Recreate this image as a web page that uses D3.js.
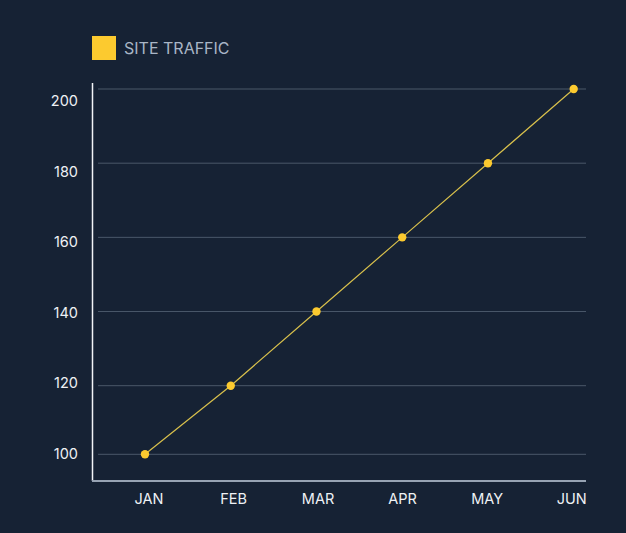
<!DOCTYPE html>
<html>
<head>
<meta charset="utf-8">
<script src="https://cdn.jsdelivr.net/npm/d3@7"></script>
<style>
  html, body { margin: 0; padding: 0; background: #162234; }
  #graf { width: 626px; height: 533px; }
  text { font-family: Inter, 'Noto Sans', sans-serif; }
</style>
</head>
<body>
<div id="graf"></div>
<script>
// datos
meses = ['JAN', 'FEB', 'MAR', 'APR', 'MAY', 'JUN']
trafico = [100, 120, 140, 160, 180, 200]
yTicks = [100, 120, 140, 160, 180, 200]
serie = 'SITE TRAFFIC'

// configuración
ancho_total = 626
alto_total = 533
margins = { top: 83, left: 92, right: 40, bottom: 52 }
ancho = ancho_total - margins.left - margins.right
alto = alto_total - margins.top - margins.bottom

svg = d3.select('#graf').append('svg')
        .attr('width', ancho_total)
        .attr('height', alto_total)

g = svg.append('g')
       .attr('transform', `translate(${ margins.left }, ${ margins.top })`)

// escalas (la grilla del original no es del todo uniforme abajo)
y = d3.scaleLinear()
      .domain([100, 120, 200])
      .range([371.3, 302.7, 6])
yLabel = d3.scalePoint()
      .domain(yTicks)
      .range([371, 18])
x = d3.scalePoint()
      .domain(meses)
      .range([53, 481.7])
xLabel = d3.scalePoint()
      .domain(meses)
      .range([57, 479.7])

// grilla
g.selectAll('.grid')
  .data(yTicks)
  .enter().append('line')
    .attr('class', 'grid')
    .attr('x1', 6).attr('x2', ancho)
    .attr('y1', d => y(d)).attr('y2', d => y(d))
    .attr('stroke', '#4a5869')
    .attr('stroke-width', 1)

// ejes
g.append('line')
  .attr('x1', 0.5).attr('x2', 0.5)
  .attr('y1', 0).attr('y2', alto)
  .attr('stroke', '#f2f4f7')
  .attr('stroke-width', 1.5)

g.append('line')
  .attr('x1', 0).attr('x2', ancho)
  .attr('y1', alto).attr('y2', alto)
  .attr('stroke', '#97a3b3')
  .attr('stroke-width', 2)

g.selectAll('.ylab')
  .data(yTicks)
  .enter().append('text')
    .attr('class', 'ylab')
    .attr('x', -14)
    .attr('y', d => yLabel(d))
    .attr('dy', '0.35em')
    .attr('text-anchor', 'end')
    .attr('fill', '#eef1f5')
    .style('font-size', '14.5px')
    .text(d => d)

g.selectAll('.xlab')
  .data(meses)
  .enter().append('text')
    .attr('class', 'xlab')
    .attr('x', d => xLabel(d))
    .attr('y', alto + 18)
    .attr('dy', '0.35em')
    .attr('text-anchor', 'middle')
    .attr('fill', '#eef1f5')
    .style('font-size', '14.5px')
    .text(d => d)

// línea y puntos
datos = meses.map((m, i) => ({ mes: m, valor: trafico[i] }))

linea = d3.line()
          .x(d => x(d.mes))
          .y(d => y(d.valor))

g.append('path')
  .datum(datos)
  .attr('d', linea)
  .attr('fill', 'none')
  .attr('stroke', '#d8c04c')
  .attr('stroke-width', 1.2)

g.selectAll('circle')
  .data(datos)
  .enter().append('circle')
    .attr('cx', d => x(d.mes))
    .attr('cy', d => y(d.valor))
    .attr('r', 4.2)
    .attr('fill', '#fcca2f')

// leyenda
leyenda = svg.append('g')
             .attr('transform', 'translate(92, 36)')
leyenda.append('rect')
  .attr('width', 24).attr('height', 24)
  .attr('fill', '#fcca2f')
leyenda.append('text')
  .attr('x', 32).attr('y', 12)
  .attr('dy', '0.35em')
  .attr('fill', '#a9b6c6')
  .style('font-size', '16px')
  .text(serie)
</script>
</body>
</html>
